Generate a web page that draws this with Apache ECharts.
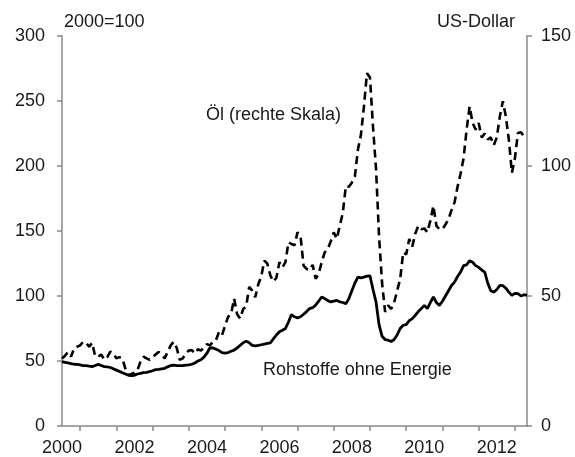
<!DOCTYPE html>
<html>
<head>
<meta charset="utf-8">
<script src="https://cdn.jsdelivr.net/npm/echarts@6/dist/echarts.min.js"></script>
<style>
  html, body { margin: 0; padding: 0; background: #fff; }
  #container { width: 575px; height: 457px; }
</style>
</head>
<body>
<div id="container"></div>
<script>
// Monthly values, Jan 2000 - Nov 2012
// Rohstoffe ohne Energie, 2000=100 (left scale)
const commodity = [
  49.5, 49, 48.5, 48, 47.5, 47.4, 47, 46.5, 46.4, 46, 45.7, 46.5,
  47.4, 46.5, 45.7, 45.5, 45, 44, 43, 42, 41, 40, 39, 38.8,
  39, 40, 40.5, 41, 41.3, 41.8, 42.5, 43.4, 43.5, 44, 44.4, 45.5,
  46.5, 46.9, 46.5, 46.4, 46.5, 46.9, 47, 47.5, 48.5, 50, 51, 53,
  56, 60.2, 60, 59.1, 58, 56.4, 56, 56.5, 57.5, 58.4, 60, 62,
  64, 65.3, 64, 62, 61.7, 62, 62.5, 63, 63.5, 64, 67, 70,
  72.5, 73.7, 75, 80, 85.7, 84, 83.2, 84, 86, 88, 90.3, 91,
  93, 96, 99.2, 98, 96.5, 95.4, 96, 96.6, 95.5, 95, 94.1, 98,
  104, 110, 114.5, 114, 114.5, 115.3, 115.5, 105, 95.4, 78, 69, 66.5,
  66, 65, 66.5, 70, 75, 77.5, 78, 81, 82.6, 85.2, 88, 90.3,
  92.8, 90.3, 95, 99.2, 95, 92.8, 96, 100, 104, 108.1, 110.7, 115,
  118.4, 123.4, 124, 127.2, 126, 123.4, 122, 120, 118.4, 110, 104, 103,
  105, 108.1, 108, 106, 103, 100.5, 102, 101.8, 100, 101, 100.5
];

// Öl, US-Dollar (right scale)
const oil = [
  26, 27, 28.5, 26.7, 29.8, 30.5, 31, 32.4, 32, 30.5, 32, 26.7,
  26.7, 27.5, 25.5, 26.5, 28.6, 28, 26, 26.5, 26, 22, 19.6, 20,
  20.5, 21.5, 24.8, 26.7, 26, 25.5, 26.5, 27.5, 28.5, 27.5, 26, 28.5,
  31, 32.4, 30, 25.4, 26, 28, 29, 29.2, 27.9, 29.5, 29, 30,
  31.5, 31, 32.4, 33, 36.2, 35, 38.5, 42, 43, 49, 43, 41.3,
  45, 46, 53.5, 52, 49.5, 54.5, 57.5, 63.6, 62.5, 57.9, 55.5, 57,
  63, 61, 63, 70.7, 70, 69.5, 74.5, 73, 61.7, 60.4, 60, 62,
  56.6, 58.5, 63, 66.8, 68, 71, 74.5, 72, 77, 82, 92.3, 92,
  93.6, 96, 106.3, 112, 122.9, 135.7, 134, 115, 99, 73, 55, 43.9,
  46.4, 45, 47.5, 52, 56.6, 66.8, 66, 71.9, 69, 74, 77, 75.7,
  76, 74.5, 79, 84.7, 77, 75.7, 75.7, 77.5, 79.6, 83, 86, 92,
  97, 103, 114, 122.9, 116.5, 114, 116.5, 111, 112.5, 110.2, 111, 108,
  111, 119, 124.9, 119, 110, 97.4, 103, 112.7, 113, 111.4, 111.4
];

const months = commodity.map((_, i) => (2000 + Math.floor(i / 12)) + '-' + (i % 12 + 1));

const font = 'Liberation Sans, Arial, sans-serif';
const axisGrey = '#8a8a8a';
const textColor = '#1a1a1a';

const chart = echarts.init(document.getElementById('container'));

const yAxisBase = {
  type: 'value',
  min: 0,
  interval: 50,
  splitLine: { show: false },
  axisLine: { show: true, lineStyle: { color: axisGrey, width: 1.5 } },
  axisTick: { show: true, length: 5, lineStyle: { color: axisGrey, width: 1.5 } }
};

chart.setOption({
  animation: false,
  grid: { left: 62, right: 48, top: 36, bottom: 29, containLabel: false },
  xAxis: {
    type: 'category',
    data: months,
    boundaryGap: false,
    axisLine: { lineStyle: { color: axisGrey, width: 1.5 } },
    axisTick: {
      show: true,
      length: 5,
      interval: i => i % 12 === 6,
      lineStyle: { color: axisGrey, width: 1.5 }
    },
    axisLabel: {
      interval: i => i % 24 === 0,
      formatter: v => v.split('-')[0],
      fontFamily: font, fontSize: 18, color: textColor, margin: 13
    },
    splitLine: { show: false }
  },
  yAxis: [
    Object.assign({}, yAxisBase, {
      max: 300,
      position: 'left',
      axisLabel: { fontFamily: font, fontSize: 18, color: textColor, margin: 17 }
    }),
    Object.assign({}, yAxisBase, {
      max: 150,
      position: 'right',
      axisLabel: { fontFamily: font, fontSize: 18, color: textColor, margin: 14 }
    })
  ],
  series: [
    {
      name: 'Rohstoffe ohne Energie',
      type: 'line',
      yAxisIndex: 0,
      data: commodity,
      showSymbol: false,
      lineStyle: { color: '#000', width: 2.8 }
    },
    {
      name: 'Öl (rechte Skala)',
      type: 'line',
      yAxisIndex: 1,
      data: oil,
      showSymbol: false,
      lineStyle: { color: '#000', width: 2.6, type: [8, 5] }
    }
  ],
  graphic: [
    { type: 'text', left: 64, top: 13, style: { text: '2000=100', font: '18px ' + font, fill: textColor } },
    { type: 'text', right: 60, top: 13, style: { text: 'US-Dollar', font: '18px ' + font, fill: textColor } },
    { type: 'text', left: 206, top: 106, style: { text: 'Öl (rechte Skala)', font: '18px ' + font, fill: textColor } },
    { type: 'text', left: 263, top: 361, style: { text: 'Rohstoffe ohne Energie', font: '18px ' + font, fill: textColor } }
  ]
});
</script>
</body>
</html>
